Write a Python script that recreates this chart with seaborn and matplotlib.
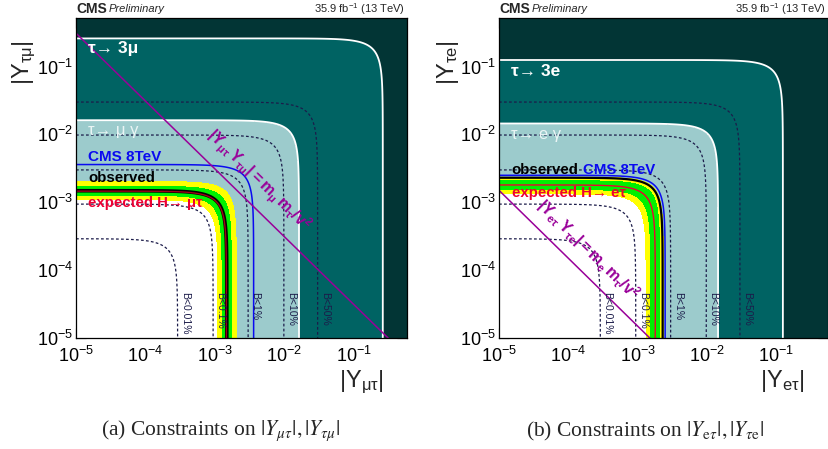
import numpy as np
import pandas as pd
import matplotlib
matplotlib.use("Agg")
import matplotlib.pyplot as plt
from matplotlib.ticker import LogLocator, NullFormatter
import seaborn as sns

# branching-ratio contours B(H -> l tau), same radii in both channels
b_labels = ["B<0.01%", "B<0.1%", "B<1%", "B<10%", "B<50%"]
b_radii = [2.9e-4, 9.4e-4, 3.0e-3, 9.8e-3, 3.0e-2]

# mu-tau channel: sqrt(|Y_mt|^2 + |Y_tm|^2) limits
mt_tau3l = 0.26        # tau -> 3 mu
mt_taulg = 0.0162      # tau -> mu gamma
mt_cms8 = 3.6e-3       # CMS 8 TeV
mt_obs = 1.48e-3       # observed
mt_exp = 1.46e-3       # expected
mt_green = [1.27e-3, 1.78e-3]
mt_yellow = [1.10e-3, 2.03e-3]
mt_natural = 3.1e-6    # m_mu m_tau / v^2

# e-tau channel
et_tau3l = 0.125       # tau -> 3 e
et_taulg = 0.0145      # tau -> e gamma
et_cms8 = 2.5e-3
et_obs = 2.3e-3
et_exp = 1.8e-3
et_green = [1.55e-3, 2.15e-3]
et_yellow = [1.33e-3, 2.35e-3]
et_natural = 1.5e-8    # m_e m_tau / v^2

sns.set_theme(style="ticks")
plt.rcParams["font.family"] = ["Liberation Sans", "DejaVu Sans"]
plt.rcParams["mathtext.fontset"] = "custom"
plt.rcParams["mathtext.rm"] = "Liberation Sans"
plt.rcParams["mathtext.it"] = "Liberation Sans:italic"
plt.rcParams["mathtext.bf"] = "Liberation Sans:bold"
plt.rcParams["lines.dashed_pattern"] = [2.2, 1.8]

dark = "#023535"
medium = "#006363"
light = "#9ccbcc"
yellow = "#ffff00"
green = "#00f000"
blue = "#0a0af0"
red = "#ee0033"
purple = "#990099"
navy = "#1c1c4a"

g = np.logspace(-5, 0, 700)
X, Y = np.meshgrid(g, g)
R = np.hypot(X, Y)


def panel(ax, tau3l, taulg, cms8, obs, exp, grn, yel, natural, xmax,
          lab3l, lablg, xlab, ylab, nat_lab, nat_pos, obs_black):
    ax.set_xscale("log")
    ax.set_yscale("log")
    ax.contourf(X, Y, R, levels=[0, obs, taulg, tau3l, 10],
                colors=["white", light, medium, dark], zorder=1)
    ax.contour(X, Y, R, levels=b_radii, colors=navy, linewidths=0.9,
               linestyles="dashed", zorder=2)
    ax.contourf(X, Y, R, levels=[yel[0], grn[0], grn[1], yel[1]],
                colors=[yellow, green, yellow], zorder=3)
    ax.contour(X, Y, R, levels=[taulg, tau3l], colors="white",
               linewidths=1.3, zorder=4)
    ax.contour(X, Y, R, levels=[cms8], colors=blue, linewidths=1.1, zorder=4)
    ax.contour(X, Y, R, levels=[obs], colors="black",
               linewidths=2.6 if obs_black else 1.6, zorder=5)
    ax.contour(X, Y, R, levels=[exp], colors=red if not obs_black else "#a00018",
               linewidths=1.0, zorder=5)

    xs = np.geomspace(1e-5, 1, 60)
    df = pd.DataFrame({"x": xs, "y": natural / xs})
    sns.lineplot(data=df, x="x", y="y", ax=ax, color=purple, lw=1.1,
                 zorder=6, sort=False)

    ax.set_xlim(1e-5, xmax)
    ax.set_ylim(1e-5, 0.52)
    ax.set_xlabel("")
    ax.set_ylabel("")
    for a in (ax.xaxis, ax.yaxis):
        a.set_major_locator(LogLocator(base=10, numticks=10))
        a.set_minor_locator(LogLocator(base=10, subs=np.arange(2, 10), numticks=10))
        a.set_minor_formatter(NullFormatter())
    ax.tick_params(which="both", direction="in", top=True, right=True,
                   colors="black", width=0.8, labelsize=13)
    ax.tick_params(which="major", length=7)
    ax.tick_params(which="minor", length=3.5)
    ax.tick_params(axis="x", pad=6)
    ax.tick_params(axis="y", pad=2)
    for s in ax.spines.values():
        s.set_linewidth(0.9)
        s.set_color("black")
        s.set_zorder(10)

    for r, lab in zip(b_radii, b_labels):
        ax.text(r * 1.27, 4.7e-5, lab, rotation=-90, ha="center", va="top",
                fontsize=7.5, color=navy, zorder=7)

    # naturalness line label
    p1 = ax.transData.transform((1e-4, natural / 1e-4))
    p2 = ax.transData.transform((1e-3, natural / 1e-3))
    ang = np.degrees(np.arctan2(p2[1] - p1[1], p2[0] - p1[0]))
    ax.text(nat_pos[0], nat_pos[1], nat_lab, rotation=ang, rotation_mode="anchor",
            ha="center", va="center", fontsize=11.5, color=purple, zorder=7)

    t = ax.transAxes
    ax.text(0.037, 0.905 if obs_black else 0.833, lab3l, transform=t,
            color="white", fontsize=12.5, fontweight="bold", va="center", zorder=8)
    ax.text(0.037, 0.65 if obs_black else 0.6375, lablg, transform=t,
            color="#eaf5f5", fontsize=12, va="center", zorder=8)

    ax.text(0, 1.028, "CMS", transform=t, fontsize=10, fontweight="bold",
            va="center", ha="left")
    ax.text(0.099, 1.028, "Preliminary", transform=t, fontsize=8,
            fontstyle="italic", va="center", ha="left")
    ax.text(0.995, 1.028, r"35.9 fb$^{-1}$ (13 TeV)", transform=t, fontsize=8,
            va="center", ha="right")

    ax.text(0.93, -0.095, xlab, transform=t, fontsize=17, ha="right", va="top")
    ax.text(-0.155, 0.93, ylab, transform=t, fontsize=17, ha="center",
            va="top", rotation=90)


fig = plt.figure(figsize=(8.29, 4.49), dpi=100)
ax1 = fig.add_axes([76 / 829, 111 / 449, 331 / 829, 320 / 449])
ax2 = fig.add_axes([499 / 829, 111 / 449, 329 / 829, 320 / 449])

panel(ax1, mt_tau3l, mt_taulg, mt_cms8, mt_obs, mt_exp, mt_green, mt_yellow,
      mt_natural, 0.58, "τ→ 3μ", "τ→ μ γ",
      r"$|\mathrm{Y}_{\mathrm{\mu\tau}}|$", r"$|\mathrm{Y}_{\mathrm{\tau\mu}}|$",
      r"$\mathbf{|Y_{\mu\tau}\,Y_{\tau\mu}|=m_{\mu}\,m_{\tau}/v^{2}}$",
      (4.2e-3, 2.1e-3), True)
t = ax1.transAxes
ax1.text(0.037, 0.566, "CMS 8TeV", transform=t, color=blue, fontsize=11,
         fontweight="bold", va="center", zorder=8)
ax1.text(0.037, 0.50, "observed", transform=t, color="black", fontsize=10.8,
         fontweight="bold", va="center", zorder=8)
ax1.text(0.037, 0.423, "expected H→ μτ", transform=t, color=red, fontsize=10.8,
         fontweight="bold", va="center", zorder=8)

panel(ax2, et_tau3l, et_taulg, et_cms8, et_obs, et_exp, et_green, et_yellow,
      et_natural, 0.56, "τ→ 3e", "τ→ e γ",
      r"$|\mathrm{Y}_{\mathrm{e\tau}}|$", r"$|\mathrm{Y}_{\mathrm{\tau e}}|$",
      r"$\mathbf{|Y_{e\tau}\,Y_{\tau e}|=m_{e}\,m_{\tau}/v^{2}}$",
      (1.9e-4, 2.0e-4), False)
t = ax2.transAxes
ax2.text(0.039, 0.525, "observed", transform=t, color="black", fontsize=10.8,
         fontweight="bold", va="center", zorder=8)
ax2.text(0.255, 0.525, "CMS 8TeV", transform=t, color=blue, fontsize=10.8,
         fontweight="bold", va="center", zorder=8)
ax2.text(0.039, 0.453, "expected H→ eτ", transform=t, color=red, fontsize=10.8,
         fontweight="bold", va="center", zorder=8)

fig.text(221 / 829, 18 / 449, r"(a) Constraints on $|Y_{\mu\tau}|, |Y_{\tau\mu}|$",
         family="Liberation Serif", math_fontfamily="stix", fontsize=15.5,
         ha="center", va="center")
fig.text(645 / 829, 18 / 449,
         r"(b) Constraints on $|Y_{\mathrm{e}\tau}|, |Y_{\tau\mathrm{e}}|$",
         family="Liberation Serif", math_fontfamily="stix", fontsize=15.5,
         ha="center", va="center")

fig.savefig("out.png", dpi=100)
